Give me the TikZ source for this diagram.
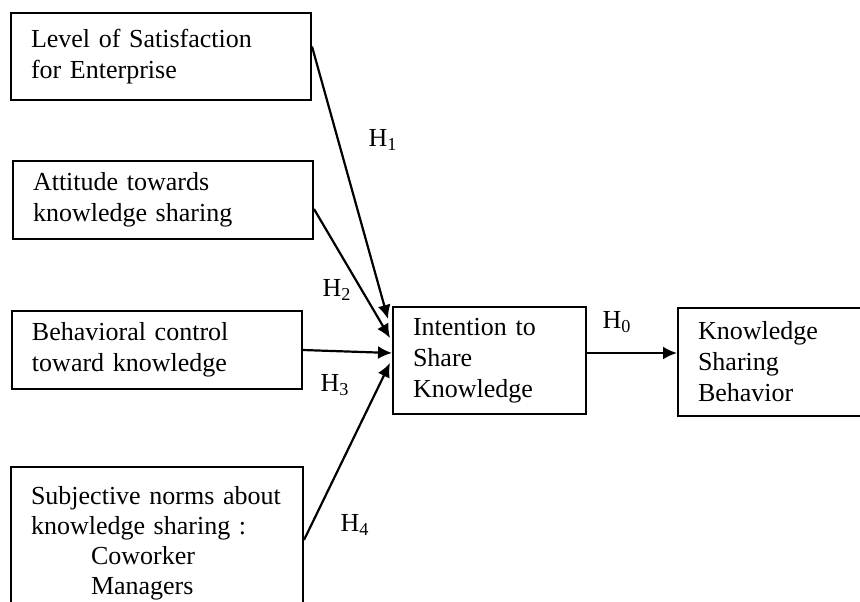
\documentclass[tikz,border=0pt]{standalone}
\usepackage{fontspec}
\setmainfont{Liberation Serif}
\usetikzlibrary{arrows.meta,positioning,calc}

\begin{document}
\begin{tikzpicture}[
  x=0.5pt, y=-0.5pt,
  factor/.style={rectangle, draw, line width=1pt, anchor=north west, align=left, inner xsep=10pt, inner ysep=0pt, font=\fontsize{13}{15.5}\selectfont},
  hyp/.style={font=\fontsize{13}{15.5}\selectfont, inner sep=1pt},
  link/.style={line width=1.1pt, -{Latex[length=7pt,width=6.5pt]}}
]
\useasboundingbox (0,0) rectangle (860,601);
\clip (0,0) rectangle (860,601);

% factors on the left
\node[factor, minimum width=150pt, minimum height=43.5pt, text width=130pt] (sat) at (10,12) {Level of Satisfaction\\for Enterprise};
\node[factor, minimum width=150pt, minimum height=39pt, text width=130pt] (att) at (12,160) {Attitude towards\\knowledge sharing};
\node[factor, minimum width=145pt, minimum height=39pt, text width=125pt] (beh) at (11,310) {Behavioral control\\toward knowledge};
\node[factor, minimum width=146pt, minimum height=76pt, text width=126pt, font=\fontsize{13}{15}\selectfont] (norm) at (10,466) {Subjective norms about\\knowledge sharing :\\\hspace*{30pt}Coworker\\\hspace*{30pt}Managers};

% intention and behavior
\node[factor, minimum width=96.5pt, minimum height=53.5pt, text width=76.5pt] (int) at (392,306) {Intention to\\Share\\Knowledge};
\node[factor, minimum width=96.5pt, minimum height=54pt, text width=76.5pt] (ksb) at (677,307) {Knowledge\\Sharing\\Behavior};

% hypotheses
\draw[link] ($(sat.east)+(0,-10)$) -- ($(int.west)+(-4,-41.5)$);
\draw[link] ($(att.east)+(0,9)$) -- ($(int.west)+(-2,-22.5)$);
\draw[link] (beh.east) -- ($(int.west)+(0,-7.5)$);
\draw[link] ($(norm.east)+(0,-3)$) -- ($(int.west)+(-2,2.5)$);
\coordinate (h0start) at ($(int.east)+(0,-7.5)$);
\draw[link] (h0start) -- (ksb.west |- h0start);

\node[hyp] (h1) at (383,140) {H\textsubscript{1}};
\node[hyp] (h2) at (337,290) {H\textsubscript{2}};
\node[hyp] (h3) at (335,385) {H\textsubscript{3}};
\node[hyp] (h4) at (355,525) {H\textsubscript{4}};
\node[hyp] (h0) at (617,322) {H\textsubscript{0}};
\end{tikzpicture}
\end{document}
